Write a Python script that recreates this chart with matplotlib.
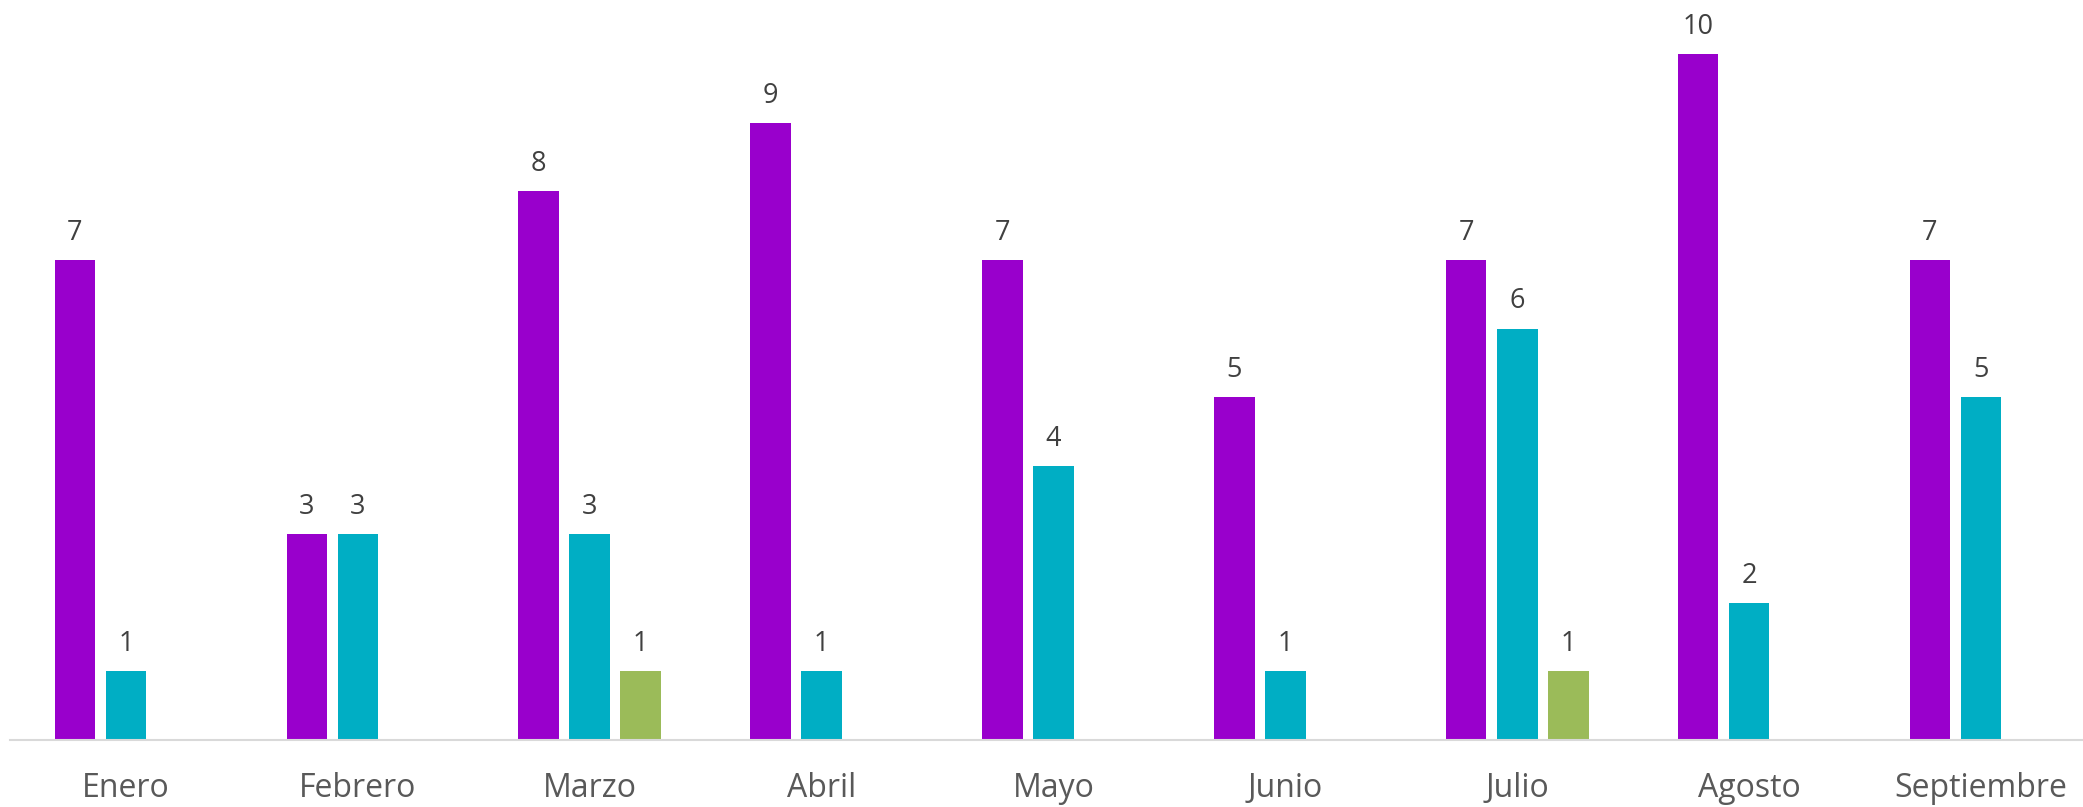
import matplotlib
matplotlib.use("Agg")
import matplotlib.pyplot as plt
import numpy as np

months = ["Enero", "Febrero", "Marzo", "Abril", "Mayo", "Junio", "Julio", "Agosto", "Septiembre"]
serie_morada = [7, 3, 8, 9, 7, 5, 7, 10, 7]
serie_turquesa = [1, 3, 3, 1, 4, 1, 6, 2, 5]
serie_verde = [0, 0, 1, 0, 0, 0, 1, 0, 0]

colors = ["#9900CC", "#00AEC4", "#9BBB59"]

plt.rcParams['font.family'] = ['Open Sans', 'DejaVu Sans']

W, H = 2083, 807
fig = plt.figure(figsize=(W / 100, H / 100), dpi=100)
ax = fig.add_axes([10 / W, 67 / H, 1 - 10 / W, 740 / H])

x = np.arange(len(months))
width = 0.175
pitch = 0.22
for i, (vals, c) in enumerate(zip([serie_morada, serie_turquesa, serie_verde], colors)):
    xs = x + (i - 1) * pitch
    ax.bar(xs, vals, width=width, color=c, zorder=2)
    for xv, v in zip(xs, vals):
        if v > 0:
            ax.annotate(str(v), (xv, v), xytext=(0, 14.5), textcoords="offset points",
                        ha="center", va="baseline", fontsize=19.5, color="#404040")

ax.set_xlim(-0.5, 8.44)
ax.set_ylim(0, 740 / 68.57)
for s in ["top", "right", "left"]:
    ax.spines[s].set_visible(False)
ax.spines["bottom"].set_color("#D9D9D9")
ax.spines["bottom"].set_linewidth(1.5)
ax.set_yticks([])
ax.set_xticks(x)
ax.set_xticklabels(months, fontsize=23, color="#595959")
ax.tick_params(axis="x", length=0, pad=23)

fig.savefig("out.png", dpi=100)
